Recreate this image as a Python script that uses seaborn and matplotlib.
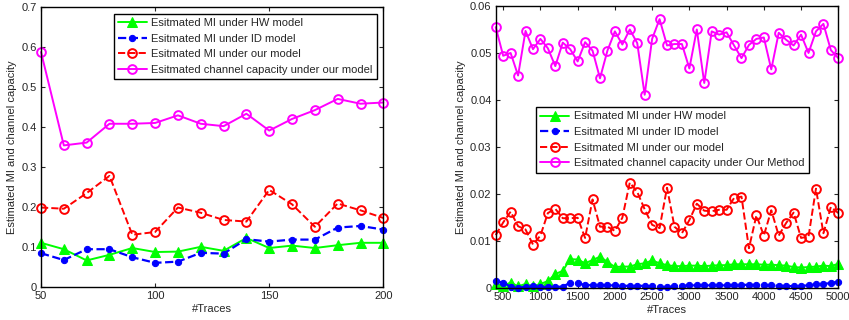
import matplotlib
matplotlib.use('Agg')
import matplotlib.pyplot as plt
import seaborn as sns

# Left panel data (#Traces 50..200)
traces_left = [50, 60, 70, 80, 90, 100, 110, 120, 130, 140, 150, 160, 170, 180, 190, 200]
hw_left = [0.111, 0.095, 0.067, 0.081, 0.098, 0.088, 0.089, 0.101, 0.091, 0.123,
           0.098, 0.104, 0.098, 0.105, 0.111, 0.111]
id_left = [0.085, 0.068, 0.095, 0.095, 0.075, 0.061, 0.064, 0.086, 0.084, 0.120,
           0.114, 0.119, 0.119, 0.149, 0.153, 0.144]
our_left = [0.199, 0.196, 0.235, 0.278, 0.131, 0.138, 0.199, 0.186, 0.168, 0.164,
            0.243, 0.207, 0.151, 0.209, 0.192, 0.173]
cap_left = [0.587, 0.354, 0.361, 0.408, 0.408, 0.410, 0.429, 0.408, 0.402, 0.433,
            0.391, 0.420, 0.442, 0.470, 0.458, 0.461]

# Right panel data (#Traces 400..5000)
traces_right = list(range(400, 5001, 100))
hw_right = [0.0008, 0.0004, 0.0011, 0.0003, 0.0008, 0.0003, 0.0008, 0.0014, 0.0029, 0.0036,
            0.0061, 0.0060, 0.0052, 0.0059, 0.0066, 0.0055, 0.0044, 0.0045, 0.0045, 0.0050,
            0.0052, 0.0058, 0.0052, 0.0048, 0.0046, 0.0046, 0.0047, 0.0047, 0.0046, 0.0047,
            0.0048, 0.0048, 0.0050, 0.0050, 0.0050, 0.0050, 0.0049, 0.0049, 0.0048, 0.0047,
            0.0044, 0.0043, 0.0044, 0.0045, 0.0047, 0.0046, 0.0051]
id_right = [0.0014, 0.0011, 0.0002, 0.0000, 0.0002, 0.0003, 0.0002, 0.0001, 0.0002, 0.0002,
            0.0011, 0.0009, 0.0006, 0.0005, 0.0006, 0.0005, 0.0005, 0.0004, 0.0004, 0.0004,
            0.0004, 0.0003, 0.0002, 0.0001, 0.0003, 0.0004, 0.0005, 0.0005, 0.0005, 0.0005,
            0.0005, 0.0005, 0.0005, 0.0006, 0.0006, 0.0006, 0.0005, 0.0005, 0.0004, 0.0004,
            0.0003, 0.0004, 0.0005, 0.0007, 0.0008, 0.0010, 0.0013]
our_right = [0.0112, 0.0139, 0.0162, 0.0131, 0.0124, 0.0092, 0.0111, 0.0159, 0.0168, 0.0148,
             0.0148, 0.0149, 0.0106, 0.0188, 0.0130, 0.0130, 0.0121, 0.0149, 0.0224, 0.0204,
             0.0167, 0.0134, 0.0127, 0.0213, 0.0130, 0.0116, 0.0144, 0.0179, 0.0164, 0.0163,
             0.0166, 0.0166, 0.0191, 0.0194, 0.0084, 0.0154, 0.0111, 0.0165, 0.0111, 0.0138,
             0.0160, 0.0106, 0.0109, 0.0211, 0.0116, 0.0172, 0.0159]
cap_right = [0.0555, 0.0494, 0.0500, 0.0452, 0.0547, 0.0508, 0.0530, 0.0510, 0.0472, 0.0522,
             0.0508, 0.0482, 0.0523, 0.0505, 0.0446, 0.0505, 0.0546, 0.0518, 0.0550, 0.0521,
             0.0411, 0.0530, 0.0572, 0.0516, 0.0519, 0.0519, 0.0467, 0.0550, 0.0436, 0.0546,
             0.0539, 0.0544, 0.0516, 0.0489, 0.0517, 0.0530, 0.0533, 0.0465, 0.0543, 0.0528,
             0.0516, 0.0539, 0.0500, 0.0546, 0.0562, 0.0506, 0.0489]

sns.set_style('ticks')
plt.rcParams['font.family'] = ['Liberation Sans', 'DejaVu Sans']
plt.rcParams['font.size'] = 8

fig = plt.figure(figsize=(8.49, 3.2), dpi=100)
ax1 = fig.add_axes([0.0483, 0.1022, 0.4032, 0.8768])
ax2 = fig.add_axes([0.5839, 0.1009, 0.4035, 0.8803])


def draw(ax, x, hw, idm, our, cap, cap_label):
    sns.lineplot(x=x, y=hw, ax=ax, color=(0, 1, 0), marker='^', markersize=6.5,
                 markeredgecolor=(0, 1, 0), linewidth=1.4, clip_on=False,
                 label='Esitmated MI under HW model')
    sns.lineplot(x=x, y=idm, ax=ax, color=(0, 0, 1), marker='o', markersize=4.5,
                 markeredgecolor=(0, 0, 1), linewidth=1.6, linestyle='--', clip_on=False,
                 label='Esitmated MI under ID model')
    sns.lineplot(x=x, y=our, ax=ax, color=(1, 0, 0), marker='o', markersize=6.3,
                 markerfacecolor='none', markeredgecolor=(1, 0, 0), markeredgewidth=1.4,
                 linewidth=1.4, linestyle='--', clip_on=False,
                 label='Esitmated MI under our model')
    sns.lineplot(x=x, y=cap, ax=ax, color=(1, 0, 1), marker='o', markersize=6.3,
                 markerfacecolor='none', markeredgecolor=(1, 0, 1), markeredgewidth=1.4,
                 linewidth=1.4, clip_on=False, label=cap_label)
    ax.set_xlabel('#Traces', fontsize=8, labelpad=2)
    ax.set_ylabel('Estimated MI and channel capacity', fontsize=8, labelpad=3)
    ax.tick_params(direction='in', top=True, right=True, labelsize=8, length=3, pad=3)
    for s in ax.spines.values():
        s.set_visible(True)
        s.set_linewidth(1.0)
        s.set_color('black')


legend_kw = dict(borderaxespad=0, fancybox=False, edgecolor='black', framealpha=1,
                 fontsize=8, handlelength=2.6, labelspacing=0.5, borderpad=0.4,
                 handletextpad=0.4)

draw(ax1, traces_left, hw_left, id_left, our_left, cap_left,
     'Esitmated channel capacity under our model')
ax1.set_xlim(50, 200)
ax1.set_ylim(0, 0.7)
ax1.set_xticks([50, 100, 150, 200])
ax1.set_yticks([0, 0.1, 0.2, 0.3, 0.4, 0.5, 0.6, 0.7])
ax1.set_yticklabels(['0', '0.1', '0.2', '0.3', '0.4', '0.5', '0.6', '0.7'])
ax1.legend(loc='upper right', bbox_to_anchor=(0.982, 0.975), **legend_kw)

draw(ax2, traces_right, hw_right, id_right, our_right, cap_right,
     'Esitmated channel capacity under Our Method')
ax2.set_xlim(400, 5000)
ax2.set_ylim(0, 0.06)
ax2.set_xticks(list(range(500, 5001, 500)))
ax2.set_yticks([0, 0.01, 0.02, 0.03, 0.04, 0.05, 0.06])
ax2.set_yticklabels(['0', '0.01', '0.02', '0.03', '0.04', '0.05', '0.06'])
ax2.legend(loc='upper left', bbox_to_anchor=(0.1176, 0.6415), **legend_kw)

fig.savefig('out.png', dpi=100)
